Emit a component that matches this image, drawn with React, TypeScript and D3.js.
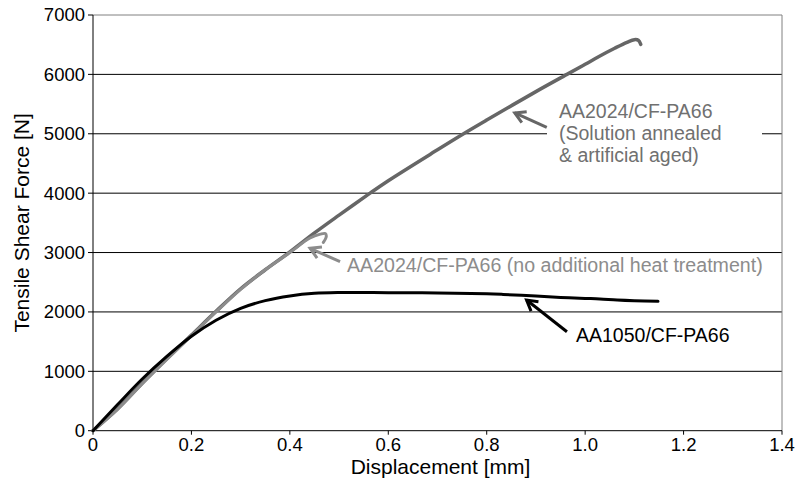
import React from "react";
import * as d3 from "d3";

// Displacement [mm], force [N]
const aa1050Disp = [0, 0.05, 0.1, 0.15, 0.2, 0.25, 0.3, 0.35, 0.4, 0.45, 0.5, 0.6, 0.7, 0.8, 0.833, 0.9, 0.95, 1.0, 1.03, 1.065, 1.1, 1.148];
const aa1050Force = [0, 440, 870, 1250, 1590, 1860, 2060, 2190, 2270, 2315, 2328, 2325, 2320, 2305, 2295, 2268, 2245, 2228, 2218, 2200, 2188, 2178];

const aa2024NoHtDisp = [0, 0.05, 0.1, 0.15, 0.2, 0.25, 0.3, 0.35, 0.4, 0.44, 0.462, 0.472, 0.474, 0.468];
const aa2024NoHtForce = [0, 360, 790, 1200, 1600, 2000, 2380, 2710, 3000, 3240, 3310, 3320, 3270, 3170];

const aa2024AgedDisp = [0, 0.05, 0.1, 0.15, 0.2, 0.25, 0.3, 0.35, 0.4, 0.45, 0.5, 0.563, 0.6, 0.7, 0.753, 0.8, 0.9, 0.963, 1.0, 1.03, 1.06, 1.085, 1.1, 1.108, 1.113];
const aa2024AgedForce = [0, 370, 800, 1210, 1610, 2010, 2390, 2710, 3010, 3330, 3630, 4000, 4210, 4730, 5000, 5230, 5710, 6000, 6170, 6310, 6440, 6540, 6585, 6575, 6505];

const xTicks = [0, 0.2, 0.4, 0.6, 0.8, 1.0, 1.2, 1.4];
const xTickLabels = ["0", "0.2", "0.4", "0.6", "0.8", "1.0", "1.2", "1.4"];
const yTicks = [0, 1000, 2000, 3000, 4000, 5000, 6000, 7000];
const yTickLabels = ["0", "1000", "2000", "3000", "4000", "5000", "6000", "7000"];

const xTitle = "Displacement [mm]";
const yTitle = "Tensile Shear Force [N]";
const labelAged = ["AA2024/CF-PA66", "(Solution annealed", "& artificial aged)"];
const labelNoHt = "AA2024/CF-PA66 (no additional heat treatment)";
const label1050 = "AA1050/CF-PA66";

const W = 795;
const H = 492;
const L = 93;
const R = 782;
const T = 15;
const B = 430.7;
const FONT = "'Liberation Sans', Arial, Helvetica, sans-serif";

const x = d3.scaleLinear().domain([0, 1.4]).range([L, R]);
const y = d3.scaleLinear().domain([0, 7000]).range([B, T]);

const line = d3
  .line<[number, number]>()
  .x((d) => x(d[0]))
  .y((d) => y(d[1]))
  .curve(d3.curveCatmullRom.alpha(0.5));

const zip = (a: number[], b: number[]) => a.map((v, i) => [v, b[i]] as [number, number]);

function Arrow({ from, to, color }: { from: [number, number]; to: [number, number]; color: string }) {
  const x1 = x(from[0]);
  const y1 = y(from[1]);
  const x2 = x(to[0]);
  const y2 = y(to[1]);
  const ang = Math.atan2(y1 - y2, x1 - x2);
  const len = 12;
  const spread = Math.PI / 6;
  const a1 = [x2 + len * Math.cos(ang + spread), y2 + len * Math.sin(ang + spread)];
  const a2 = [x2 + len * Math.cos(ang - spread), y2 + len * Math.sin(ang - spread)];
  return (
    <g stroke={color} strokeWidth={3} fill="none" strokeLinecap="butt" strokeLinejoin="miter">
      <line x1={x1} y1={y1} x2={x2} y2={y2} />
      <polyline points={`${a1[0]},${a1[1]} ${x2},${y2} ${a2[0]},${a2[1]}`} />
    </g>
  );
}

export default function App() {
  const aged = zip(aa2024AgedDisp, aa2024AgedForce);
  const noHt = zip(aa2024NoHtDisp, aa2024NoHtForce);
  const a1050 = zip(aa1050Disp, aa1050Force);
  return (
    <div>
      <style>{`body{margin:0}`}</style>
      <svg width={W} height={H} style={{ display: "block", background: "#fff" }} fontFamily={FONT}>
        {/* gridlines */}
        {yTicks.slice(1).map((t) => (
          <line key={t} x1={L} x2={R} y1={y(t)} y2={y(t)} stroke={t === 7000 ? "#808080" : "#000"} strokeWidth={1} />
        ))}
        {/* right border */}
        <line x1={R} x2={R} y1={T} y2={B} stroke="#808080" strokeWidth={1} />
        {/* label box covering gridline */}
        <rect x={547} y={100} width={215} height={68} fill="#fff" />
        {/* axes */}
        <line x1={L} x2={L} y1={T} y2={B} stroke="#000" strokeWidth={1} />
        <line x1={L} x2={R} y1={B} y2={B} stroke="#000" strokeWidth={1} />
        {yTicks.map((t, i) => (
          <g key={t}>
            <line x1={L - 5} x2={L} y1={y(t)} y2={y(t)} stroke="#000" />
            <text x={L - 8} y={y(t)} dy="0.35em" textAnchor="end" fontSize={18.5} fill="#000">
              {yTickLabels[i]}
            </text>
          </g>
        ))}
        {xTicks.map((t, i) => (
          <g key={t}>
            <line x1={x(t)} x2={x(t)} y1={B} y2={B + 4} stroke="#000" />
            <text x={x(t)} y={B + 20} textAnchor="middle" fontSize={18.5} fill="#000">
              {xTickLabels[i]}
            </text>
          </g>
        ))}
        <text x={(L + R) / 2 + 3} y={474} textAnchor="middle" fontSize={21} fill="#000">
          {xTitle}
        </text>
        <text transform={`translate(29,${(T + B) / 2}) rotate(-90)`} textAnchor="middle" fontSize={21} fill="#000">
          {yTitle}
        </text>
        {/* curves */}
        <path d={line(aged) || ""} fill="none" stroke="#666666" strokeWidth={3.5} strokeLinejoin="round" strokeLinecap="round" />
        <path d={line(noHt) || ""} fill="none" stroke="#8c8c8c" strokeWidth={3} strokeLinejoin="round" strokeLinecap="round" />
        <path d={line(a1050) || ""} fill="none" stroke="#000" strokeWidth={3} strokeLinejoin="round" strokeLinecap="round" />
        {/* annotations */}
        <Arrow from={[0.922, 5109]} to={[0.857, 5350]} color="#666666" />
        <Arrow from={[0.502, 2846]} to={[0.441, 3071]} color="#8c8c8c" />
        <Arrow from={[0.963, 1667]} to={[0.881, 2201]} color="#000" />
        {labelAged.map((s, i) => (
          <text key={s} x={559} y={117.5 + i * 22} fontSize={19.5} fill="#707070">
            {s}
          </text>
        ))}
        <text x={347} y={271.5} fontSize={19.6} fill="#8c8c8c">
          {labelNoHt}
        </text>
        <text x={576} y={341.5} fontSize={19.5} fill="#000">
          {label1050}
        </text>
      </svg>
    </div>
  );
}
